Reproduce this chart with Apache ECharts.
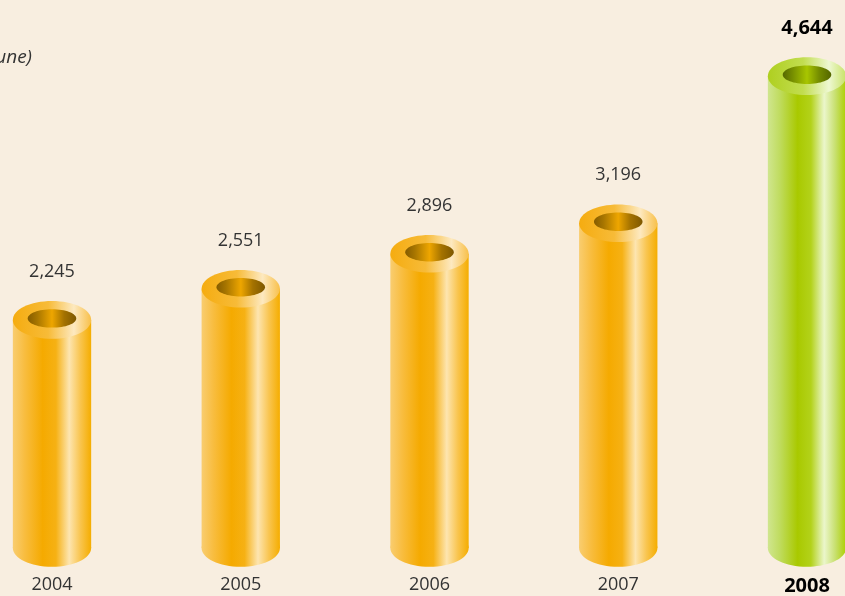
<!DOCTYPE html>
<html>
<head>
<meta charset="utf-8">
<script src="https://cdn.jsdelivr.net/npm/echarts@6/dist/echarts.min.js"></script>
<style>
html,body{margin:0;padding:0;background:#f8eee0;}
#chart{width:845px;height:596px;}
</style>
</head>
<body>
<div id="chart"></div>
<script>
const categories = ['2004', '2005', '2006', '2007', '2008'];
const values = [2245, 2551, 2896, 3196, 4644];
const titleText = 'une)';

const chart = echarts.init(document.getElementById('chart'), null, {renderer: 'canvas'});
const LG = echarts.graphic.LinearGradient;
const lastIdx = categories.length - 1;
const catIndex = categories.map((c, i) => i);

function fmt(v) { return v.toLocaleString('en-US'); }

const palettes = {
  orange: {
    body: [[0,'#f9cd70'],[0.15,'#f8bd40'],[0.38,'#f5aa00'],[0.55,'#f6b114'],[0.72,'#fde5b0'],[0.86,'#f9c550'],[1,'#f5ad00']],
    top: [[0,'#f5ac10'],[0.45,'#f7bb38'],[0.78,'#fde9c0'],[1,'#f8c04a']],
    hole: [[0,'#855c00'],[0.2,'#a87600'],[0.5,'#eea600'],[0.75,'#a47200'],[1,'#7e5800']]
  },
  green: {
    body: [[0,'#d0e68f'],[0.15,'#c0dc60'],[0.38,'#a9c900'],[0.55,'#b3d21a'],[0.72,'#ebf6cb'],[0.86,'#c8e070'],[1,'#accf00']],
    top: [[0,'#afcf20'],[0.45,'#c2dd50'],[0.78,'#eef8d2'],[1,'#c8e266']],
    hole: [[0,'#566800'],[0.2,'#768e00'],[0.5,'#a8c600'],[0.75,'#748c00'],[1,'#546600']]
  }
};
function grad(stops) {
  return new LG(0, 0, 1, 0, stops.map(s => ({offset: s[0], color: s[1]})));
}

function renderItem(params, api) {
  const i = api.value(0);
  const v = api.value(1);
  const top = api.coord([i, v]);
  const bot = api.coord([i, 0]);
  const bw = api.size([1, 0])[0] * 0.415;
  const rx = bw / 2;
  const ry = rx * 0.48;
  const cx = top[0];
  const p = i === lastIdx ? palettes.green : palettes.orange;
  const hl = i === lastIdx;
  return {
    type: 'group',
    children: [
      {type: 'ellipse', shape: {cx: cx, cy: bot[1], rx: rx, ry: ry}, style: {fill: grad(p.body)}},
      {type: 'rect', shape: {x: cx - rx, y: top[1], width: bw, height: bot[1] - top[1]}, style: {fill: grad(p.body)}},
      {type: 'ellipse', shape: {cx: cx, cy: top[1], rx: rx, ry: ry}, style: {fill: grad(p.top)}},
      {type: 'ellipse', shape: {cx: cx, cy: top[1] - 1.5, rx: rx * 0.62, ry: ry * 0.49}, style: {fill: grad(p.hole)}},
      {type: 'text', x: cx, y: top[1] - 48, style: {
        text: fmt(v), align: 'center', verticalAlign: 'middle',
        fontFamily: 'Open Sans', fontSize: hl ? 20 : 18,
        fontWeight: hl ? 'bold' : 'normal',
        fill: hl ? '#000' : '#333'
      }}
    ]
  };
}

chart.setOption({
  backgroundColor: '#f8eee0',
  animation: false,
  title: {
    text: titleText, right: 808, top: 43,
    textStyle: {fontFamily: 'Open Sans', fontSize: 19, fontStyle: 'italic', fontWeight: 'normal', color: '#333'}
  },
  grid: {left: 0, right: 0, top: 40, bottom: 48},
  xAxis: {
    type: 'value', min: -0.2755, max: 4.2013,
    axisLine: {show: false}, axisTick: {show: false}, splitLine: {show: false},
    axisLabel: {
      customValues: catIndex,
      margin: 28, fontFamily: 'Open Sans', fontSize: 18, fontWeight: 'normal', color: '#333',
      formatter: function (val) {
        const c = categories[Math.round(val)];
        return Math.round(val) === lastIdx ? '{b|' + c + '}' : c;
      },
      rich: {b: {fontFamily: 'Open Sans', fontSize: 20, fontWeight: 'bold', color: '#000', padding: [0, 0, 3, 0]}}
    }
  },
  yAxis: {type: 'value', min: 0, max: 5000, show: false},
  series: [{
    type: 'custom',
    renderItem: renderItem,
    data: values.map((v, i) => [i, v]),
    encode: {x: 0, y: 1}
  }]
});
</script>
</body>
</html>
